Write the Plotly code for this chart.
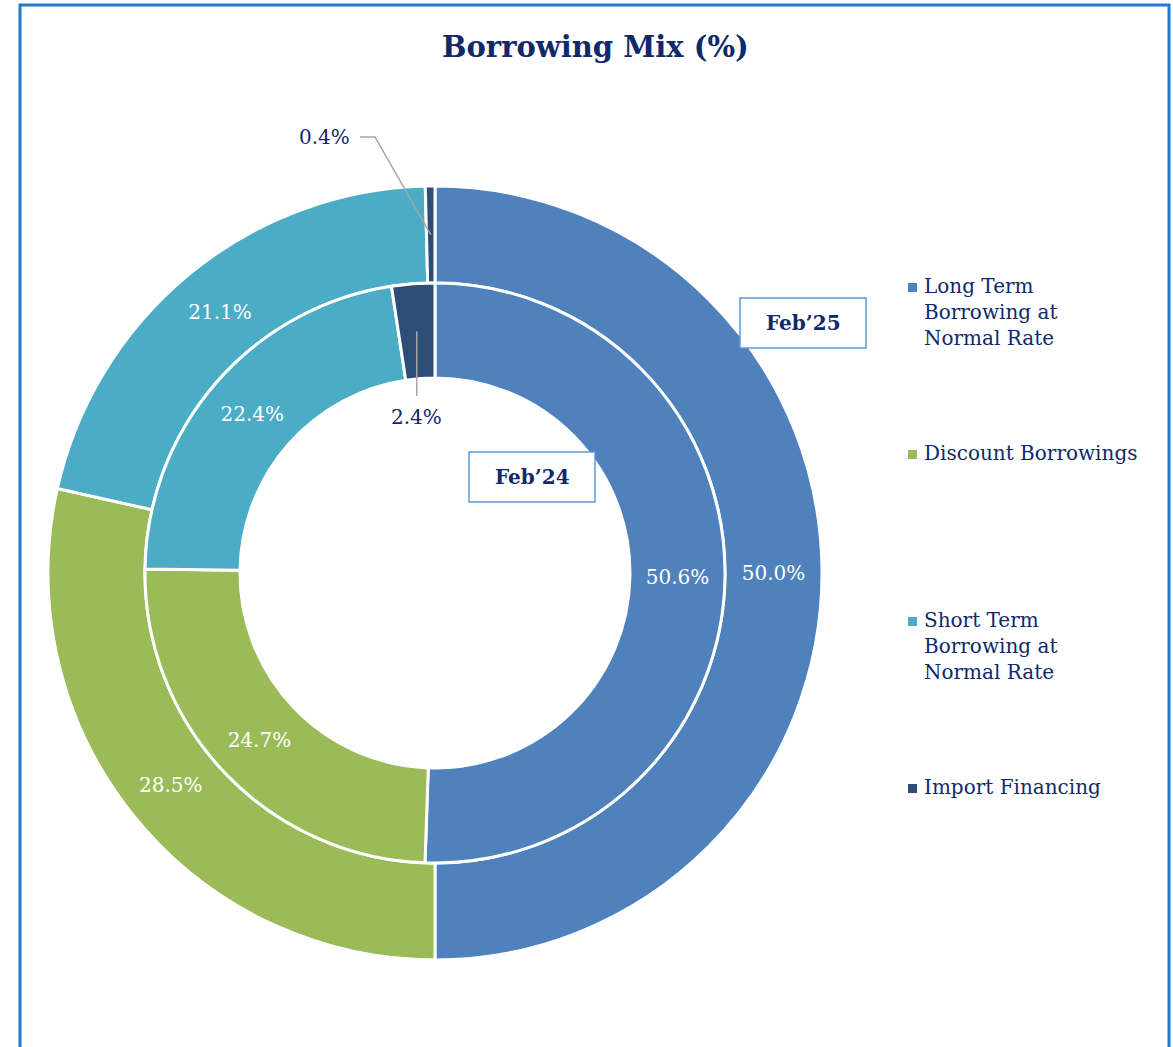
import math
import plotly.graph_objects as go

# ---- data ----
categories = ["Long Term Borrowing at Normal Rate", "Discount Borrowings",
              "Short Term Borrowing at Normal Rate", "Import Financing"]
legend_labels = ["Long Term<br>Borrowing at<br>Normal Rate", "Discount Borrowings",
                 "Short Term<br>Borrowing at<br>Normal Rate", "Import Financing"]
feb25 = [50.0, 28.5, 21.1, 0.4]   # outer ring
feb24 = [50.6, 24.7, 22.4, 2.4]   # inner ring
colors = ["#4F81BD", "#9BBB59", "#4BACC6", "#2C4D75"]
title_text = "Borrowing Mix (%)"

W, H = 1173, 1047
NAVY = "#10296B"
FONT = "DejaVu Serif"
FS = 20

# geometry (screen pixels)
cx, cy = 435, 573
R_out, R_mid, R_in = 387, 290, 195


def P(x, y):
    """screen px -> paper coords"""
    return x / W, 1 - y / H


def dom(r):
    x0, y1 = P(cx - r, cy - r)
    x1, y0 = P(cx + r, cy + r)
    return dict(x=[x0, x1], y=[y0, y1])


def labels_for(vals):
    return [f"{v:.1f}%" if i < len(vals) - 1 else "" for i, v in enumerate(vals)]


fig = go.Figure()
for vals, r_outer, r_inner in [(feb25, R_out, R_mid), (feb24, R_mid, R_in)]:
    fig.add_trace(go.Pie(
        values=vals, labels=categories, sort=False, direction="clockwise", rotation=0,
        hole=r_inner / r_outer, domain=dom(r_outer),
        marker=dict(colors=colors, line=dict(color="white", width=3)),
        text=labels_for(vals), textinfo="text", textposition="inside",
        insidetextorientation="horizontal",
        insidetextfont=dict(family=FONT, size=FS, color="white"),
        showlegend=False, hoverinfo="label+value",
    ))


def slice_mid_point(vals, idx, radius):
    tot = sum(vals)
    start = sum(vals[:idx]) / tot * 360
    mid = start + vals[idx] / tot * 360 / 2
    a = math.radians(mid)
    return cx + radius * math.sin(a), cy - radius * math.cos(a)


shapes = []
annotations = []

# leader for outer Import Financing label
px_, py_ = slice_mid_point(feb25, 3, (R_out + R_mid) / 2)
lx, ly = 360, 137
x1, y1 = P(lx, ly)
x2, y2 = P(lx + 15, ly)
x3, y3 = P(px_, py_)
shapes.append(dict(type="path", xref="paper", yref="paper",
                   path=f"M {x1},{y1} L {x2},{y2} L {x3},{y3}",
                   line=dict(color="#A6A6A6", width=1.5)))
tx, ty_ = P(lx - 8, ly)
annotations.append(dict(x=tx, y=ty_, xref="paper", yref="paper",
                        text=f"{feb25[3]:.1f}%", showarrow=False,
                        xanchor="right", yanchor="middle",
                        font=dict(family=FONT, size=FS, color=NAVY)))

# leader for inner Import Financing label
qx, qy = slice_mid_point(feb24, 3, (R_mid + R_in) / 2)
a1 = P(qx, qy)
a2 = P(qx, cy - R_in + 18)
shapes.append(dict(type="line", xref="paper", yref="paper",
                   x0=a1[0], y0=a1[1], x1=a2[0], y1=a2[1],
                   line=dict(color="#A6A6A6", width=1.5)))
a3 = P(qx, cy - R_in + 25)
annotations.append(dict(x=a3[0], y=a3[1], xref="paper", yref="paper",
                        text=f"{feb24[3]:.1f}%", showarrow=False,
                        xanchor="center", yanchor="top",
                        font=dict(family=FONT, size=FS, color=NAVY)))

# series boxes
for txt, (bx0, by0, bx1, by1) in [("Feb’25", (740, 298, 866, 348)),
                                   ("Feb’24", (469, 452, 595, 502))]:
    p0 = P(bx0, by1)
    p1 = P(bx1, by0)
    shapes.append(dict(type="rect", xref="paper", yref="paper",
                       x0=p0[0], y0=p0[1], x1=p1[0], y1=p1[1],
                       fillcolor="white", line=dict(color="#5B9BD5", width=1.5)))
    annotations.append(dict(x=(p0[0] + p1[0]) / 2, y=(p0[1] + p1[1]) / 2,
                            xref="paper", yref="paper", text=f"<b>{txt}</b>",
                            showarrow=False, xanchor="center", yanchor="middle",
                            font=dict(family=FONT, size=FS, color=NAVY)))

# legend
leg_tops = [287, 454, 621, 788]
for lab, col, top in zip(legend_labels, colors, leg_tops):
    s0 = P(908, top + 5)
    s1 = P(917, top - 4)
    shapes.append(dict(type="rect", xref="paper", yref="paper",
                       x0=s0[0], y0=s0[1], x1=s1[0], y1=s1[1],
                       fillcolor=col, line=dict(width=0)))
    t = P(922, top - 15)
    annotations.append(dict(x=t[0], y=t[1], xref="paper", yref="paper",
                            text=lab, showarrow=False, align="left",
                            xanchor="left", yanchor="top",
                            font=dict(family=FONT, size=FS, color=NAVY)))

# outer frame
f0 = P(20, 1100)
f1 = P(1169, 5)
shapes.append(dict(type="rect", xref="paper", yref="paper",
                   x0=f0[0], y0=f0[1], x1=f1[0], y1=f1[1],
                   line=dict(color="#1F7AD0", width=3), layer="below"))

# title
tp = P(595, 47)
annotations.append(dict(x=tp[0], y=tp[1], xref="paper", yref="paper",
                        text=f"<b>{title_text}</b>", showarrow=False,
                        xanchor="center", yanchor="middle",
                        font=dict(family=FONT, size=29, color=NAVY)))

fig.update_layout(width=W, height=H, margin=dict(l=0, r=0, t=0, b=0),
                  paper_bgcolor="white", plot_bgcolor="white",
                  shapes=shapes, annotations=annotations, showlegend=False)

fig.write_html("out.html",
               config={"displayModeBar": False},
               post_script="document.body.style.margin='0';"
                           "document.body.style.overflow='hidden';"
                           "document.documentElement.style.overflow='hidden';")
